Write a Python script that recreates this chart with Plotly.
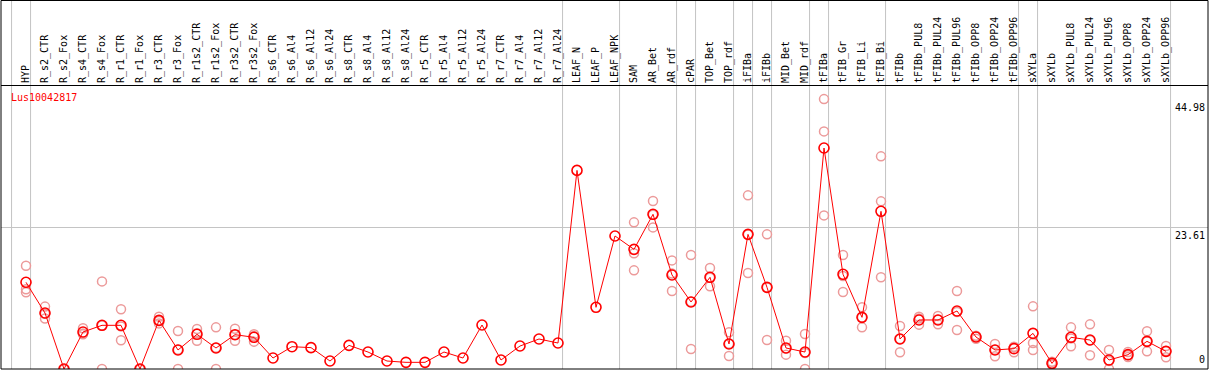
import plotly.graph_objects as go

categories = ["HYP", "R_s2_CTR", "R_s2_Fox", "R_s4_CTR", "R_s4_Fox", "R_r1_CTR", "R_r1_Fox",
              "R_r3_CTR", "R_r3_Fox", "R_r1s2_CTR", "R_r1s2_Fox", "R_r3s2_CTR", "R_r3s2_Fox",
              "R_s6_CTR", "R_s6_Al4", "R_s6_Al12", "R_s6_Al24", "R_s8_CTR", "R_s8_Al4",
              "R_s8_Al12", "R_s8_Al24", "R_r5_CTR", "R_r5_Al4", "R_r5_Al12", "R_r5_Al24",
              "R_r7_CTR", "R_r7_Al4", "R_r7_Al12", "R_r7_Al24", "LEAF_N", "LEAF_P", "LEAF_NPK",
              "SAM", "AR_Bet", "AR_rdf", "cPAR", "TOP_Bet", "TOP_rdf", "iFIBa", "iFIBb",
              "MID_Bet", "MID_rdf", "tFIBa", "tFIB_Gr", "tFIB_Li", "tFIB_Bi", "tFIBb",
              "tFIBb_PUL8", "tFIBb_PUL24", "tFIBb_PUL96", "tFIBb_OPP8", "tFIBb_OPP24",
              "tFIBb_OPP96", "sXYLa", "sXYLb", "sXYLb_PUL8", "sXYLb_PUL24", "sXYLb_PUL96",
              "sXYLb_OPP8", "sXYLb_OPP24", "sXYLb_OPP96"]

mean_vals = [14.45, 9.33, 0, 6.17, 7.28, 7.28, 0, 8.1, 3.17, 5.78, 3.5, 5.72, 5.28,
             1.83, 3.72, 3.56, 1.33, 3.94, 2.83, 1.33, 1.11, 1.11, 2.83, 1.83, 7.33,
             1.5, 3.83, 5.0, 4.33, 33.1, 10.28, 22.17,
             19.94, 25.78, 15.67, 11.17, 15.28, 4.17, 22.44, 13.61, 3.5, 2.83,
             36.83, 15.78, 8.61, 26.28, 5.0, 8.17, 8.17, 9.67, 5.33, 3.17, 3.39,
             5.94, 0.94, 5.28, 4.83, 1.5, 2.39, 4.61, 2.94]

N = None
rep_a = [17.2, 10.4, 0, 6.8, 14.6, 9.95, 0, 8.7, 6.33, 6.67, 6.94, 6.72, 5.78,
         N, N, N, N, N, N, N, N, N, N, N, N, N, N, N, N, N, N, N,
         24.44, 28.0, 18.1, 19.0, 16.83, 6.11, 28.94, 22.44, 4.72, 5.83,
         44.98, 19.0, 10.28, 35.44, 7.17, 8.72, 8.83, 13.0, 5.55, 4.17, 3.72,
         10.44, 1.22, 6.94, 7.44, 3.17, 2.83, 6.28, 3.83]
rep_b = [13.3, 8.4, 0, 5.8, 0, 4.78, 0, 7.6, 0, 4.72, 0, 4.72, 5.5,
         N, N, N, N, N, N, N, N, N, N, N, N, N, N, N, N, N, N, N,
         19.28, 23.6, 13.0, 3.33, 13.78, 2.17, 16.0, 4.83, 2.39, 0,
         39.6, 12.83, 6.94, 27.94, 2.78, 7.39, 7.44, 6.5, 5.05, 2.11, 2.78,
         4.33, 0.78, 3.78, 2.28, 0, 2.0, 2.94, 1.94]
rep_c = [12.8, 9.2, 0, 5.9, 7.25, 7.1, 0, 8.0, 3.2, 5.95, 3.56, 5.72, 4.56,
         N, N, N, N, N, N, N, N, N, N, N, N, N, N, N, N, N, N, N,
         16.44, 25.7, 15.9, 11.2, 15.2, 4.2, 22.4, 13.6, 3.4, 2.67,
         25.6, 15.5, 8.6, 15.28, 5.0, 8.4, 8.2, 9.5, 5.4, 3.2, 3.6,
         3.17, 0.8, 5.1, 4.8, 1.33, 2.3, 4.6, 3.0]

# groups end after these categories (separator lines)
group_ends = ["HYP", "R_r7_Al24", "LEAF_NPK", "AR_rdf", "cPAR", "TOP_rdf", "iFIBa", "iFIBb",
              "MID_rdf", "tFIBa", "tFIB_Bi", "tFIBb_OPP96", "sXYLa", "sXYLb_OPP96"]
gene_name = "Lus10042817"
y_labels = [44.98, 23.61, 0]

W, H = 1209, 370
ML, MR, MT, MB = 1, 1, 86, 1
PW, PH = W - ML - MR, H - MT - MB
PX_PER_CAT = 19.0
FIRST_X = 26.0
PX_PER_UNIT = 6.0

x_lo = (ML - FIRST_X) / PX_PER_CAT
x_hi = (ML + PW - FIRST_X) / PX_PER_CAT
y_hi = PH / PX_PER_UNIT

fig = go.Figure()
rep_color = "#ec9a9a"
for reps in (rep_a, rep_b, rep_c):
    fig.add_trace(go.Scatter(
        x=categories, y=reps, mode="markers",
        marker=dict(symbol="circle-open", size=9, color=rep_color, line=dict(width=1.5, color=rep_color)),
        hoverinfo="skip", showlegend=False))

fig.add_trace(go.Scatter(
    x=categories, y=mean_vals, mode="lines+markers",
    line=dict(color="#ff0000", width=1),
    marker=dict(symbol="circle-open", size=10, color="#ff0000", line=dict(width=1.6, color="#ff0000")),
    showlegend=False))

shapes = []
top_paper = 1 + (MT - 0.5) / PH
for g in group_ends:
    xi = categories.index(g) + 0.24
    shapes.append(dict(type="line", xref="x", yref="paper", x0=xi, x1=xi, y0=0, y1=top_paper,
                       line=dict(color="#c4c4c4", width=1), layer="below"))
# separator before the first category
shapes.append(dict(type="line", xref="x", yref="paper", x0=-1 + 0.24, x1=-1 + 0.24, y0=0, y1=top_paper,
                   line=dict(color="#c4c4c4", width=1), layer="below"))
# outer frame
shapes.append(dict(type="rect", xref="paper", yref="paper", x0=0, x1=1, y0=0, y1=top_paper,
                   line=dict(color="black", width=1)))

annotations = [dict(text=gene_name, xref="paper", yref="paper", x=(9 - ML) / PW, y=1 - (97 - MT) / PH,
                    xanchor="left", yanchor="middle", showarrow=False,
                    font=dict(family="DejaVu Sans Mono", size=10, color="#ff0000"))]
for v in y_labels:
    annotations.append(dict(text=f"{v:g}", xref="paper", yref="y", x=1, y=v,
                            xanchor="right", yanchor="top" if v > 0 else "bottom", showarrow=False,
                            xshift=-1, yshift=-1 if v > 0 else 2,
                            font=dict(family="DejaVu Sans Mono", size=10, color="black")))

fig.update_layout(
    width=W, height=H, margin=dict(l=ML, r=MR, t=MT, b=MB, pad=0),
    paper_bgcolor="white", plot_bgcolor="white",
    shapes=shapes, annotations=annotations,
    xaxis=dict(type="category", categoryorder="array", categoryarray=categories,
               range=[x_lo, x_hi], side="top", tickangle=-90, showgrid=False,
               showline=True, linecolor="black", linewidth=1, ticks="", zeroline=False,
               tickfont=dict(family="DejaVu Sans Mono", size=10, color="black")),
    yaxis=dict(range=[0, y_hi], tickvals=[23.61], showticklabels=False, showgrid=True,
               gridcolor="#c4c4c4", gridwidth=1, zeroline=False, showline=False, ticks=""),
)

fig.write_html("out.html", config={"displayModeBar": False},
               post_script="document.body.style.margin='0';document.body.style.overflow='hidden';")
